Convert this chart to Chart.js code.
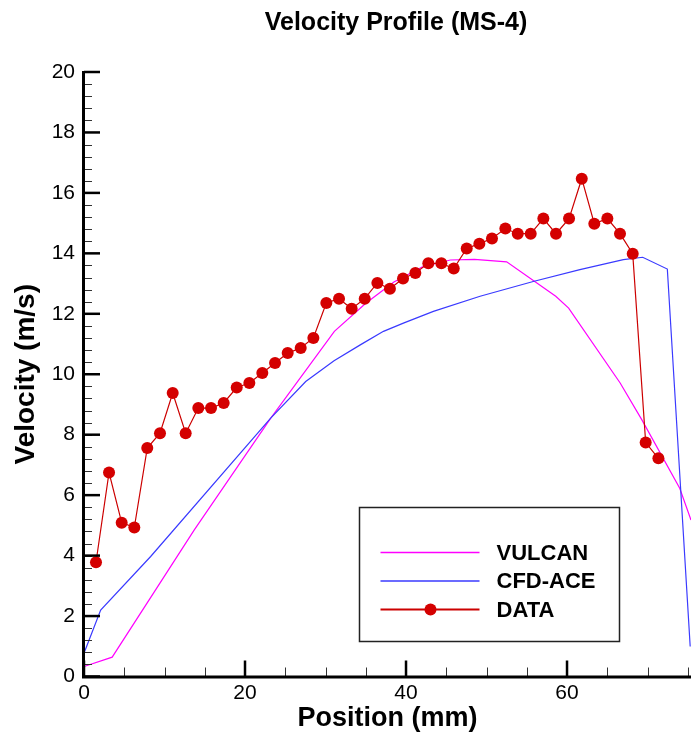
<!DOCTYPE html>
<html>
<head>
<meta charset="utf-8">
<title>Velocity Profile (MS-4)</title>
<script src="https://cdn.jsdelivr.net/npm/chart.js@4.4.1/dist/chart.umd.min.js"></script>
<style>
  html, body { margin: 0; padding: 0; background: #fff; }
  #wrap { width: 691px; height: 733px; }
</style>
</head>
<body>
<div id="wrap"><canvas id="velChart" width="691" height="733"></canvas></div>
<script>
// VULCAN prediction (magenta)
var vulcanX = [0, 3.5, 13.7, 23.2, 31.1, 35.0, 38.5, 42.0, 45.5, 48.5, 52.5, 58.6, 60.2, 66.6, 69.3, 74.0, 75.4];
var vulcanY = [0.33, 0.64, 4.85, 8.55, 11.42, 12.35, 13.05, 13.55, 13.78, 13.8, 13.72, 12.58, 12.19, 9.71, 8.49, 6.23, 5.18];

// CFD-ACE prediction (blue)
var cfdX = [0, 2.07, 8.28, 23.19, 27.54, 31.06, 34.37, 37.2, 39.75, 43.4, 49.2, 55.8, 61.6, 67.0, 69.4, 72.46, 75.3];
var cfdY = [0.77, 2.2, 3.97, 8.55, 9.76, 10.45, 10.98, 11.42, 11.7, 12.08, 12.58, 13.07, 13.46, 13.79, 13.87, 13.48, 0.99];

// measured data (red dots)
var dataX = [1.49, 3.11, 4.68, 6.25, 7.86, 9.44, 11.02, 12.63, 14.2, 15.78, 17.35, 18.97, 20.54, 22.15, 23.73,
             25.3, 26.92, 28.49, 30.1, 31.68, 33.25, 34.87, 36.44, 38.0, 39.63, 41.16, 42.77, 44.39, 45.93, 47.54,
             49.11, 50.68, 52.34, 53.88, 55.49, 57.06, 58.63, 60.25, 61.83, 63.39, 65.01, 66.58, 68.16, 69.77, 71.35];
var dataY = [3.78, 6.75, 5.09, 4.93, 7.56, 8.05, 9.38, 8.05, 8.88, 8.88, 9.05, 9.56, 9.71, 10.04, 10.37,
             10.7, 10.87, 11.2, 12.36, 12.5, 12.17, 12.5, 13.02, 12.83, 13.17, 13.35, 13.67, 13.67, 13.5, 14.16,
             14.32, 14.49, 14.82, 14.65, 14.65, 15.15, 14.65, 15.15, 16.47, 14.98, 15.15, 14.65, 13.99, 7.74, 7.22];

var xTicks = [0, 20, 40, 60];
var yTicks = [0, 2, 4, 6, 8, 10, 12, 14, 16, 18, 20];
var xMinorStep = 5;
var yMinorStep = 0.4;

var FONT = "'Liberation Sans', Arial, Helvetica, sans-serif";

function pairs(xs, ys) {
    return xs.map(function(v, i) { return { x: v, y: ys[i] }; });
}

// title drawn at a fixed spot over the plot
var titlePlugin = {
    id: 'topTitle',
    afterDraw: function(chart) {
        var ctx = chart.ctx;
        ctx.save();
        ctx.font = 'bold 25px ' + FONT;
        ctx.fillStyle = '#000';
        ctx.textAlign = 'center';
        ctx.textBaseline = 'middle';
        ctx.fillText('Velocity Profile (MS-4)', 396, 23);
        ctx.restore();
    }
};

// Tecplot style axes: thick lines with inward major / minor ticks
var axesPlugin = {
    id: 'tecAxes',
    afterDatasetsDraw: function(chart) {
        var ctx = chart.ctx, a = chart.chartArea;
        var xs = chart.scales.x, ys = chart.scales.y;
        ctx.save();

        ctx.lineWidth = 1;
        ctx.strokeStyle = '#333';
        for (var v = 0; v <= xs.max + 1e-6; v += xMinorStep) {
            var px = Math.round(xs.getPixelForValue(v)) + 0.5;
            ctx.beginPath(); ctx.moveTo(px, a.bottom); ctx.lineTo(px, a.bottom - 9); ctx.stroke();
        }
        for (var k = 0; k * yMinorStep <= ys.max + 1e-6; k++) {
            var py = Math.round(ys.getPixelForValue(k * yMinorStep)) + 0.5;
            ctx.beginPath(); ctx.moveTo(a.left, py); ctx.lineTo(a.left + 8, py); ctx.stroke();
        }

        ctx.strokeStyle = '#000';
        ctx.lineWidth = 2.5;
        xTicks.forEach(function(t) {
            var px = xs.getPixelForValue(t);
            ctx.beginPath(); ctx.moveTo(px, a.bottom); ctx.lineTo(px, a.bottom - 16); ctx.stroke();
        });
        yTicks.forEach(function(t) {
            var py = ys.getPixelForValue(t);
            ctx.beginPath(); ctx.moveTo(a.left, py); ctx.lineTo(a.left + 16, py); ctx.stroke();
        });

        ctx.lineWidth = 3;
        ctx.beginPath();
        ctx.moveTo(a.left - 0.5, a.top - 1);
        ctx.lineTo(a.left - 0.5, a.bottom + 0.5);
        ctx.lineTo(a.right, a.bottom + 0.5);
        ctx.stroke();
        ctx.restore();
    }
};

// legend box inside the plot, built from the datasets
var legendPlugin = {
    id: 'boxLegend',
    afterDraw: function(chart) {
        var ctx = chart.ctx, a = chart.chartArea;
        var bx = a.left + 275.5, by = a.top + 435.5, bw = 260, bh = 134;
        ctx.save();
        ctx.fillStyle = '#fff';
        ctx.fillRect(bx, by, bw, bh);
        ctx.strokeStyle = '#222';
        ctx.lineWidth = 1.5;
        ctx.strokeRect(bx, by, bw, bh);

        ctx.font = 'bold 22px ' + FONT;
        ctx.textBaseline = 'middle';
        ctx.textAlign = 'left';
        chart.data.datasets.forEach(function(ds, i) {
            var ly = by + 45 + i * 28.5;
            ctx.strokeStyle = ds.borderColor;
            ctx.lineWidth = ds.pointRadius ? 2 : 1.3;
            ctx.beginPath(); ctx.moveTo(bx + 21, ly); ctx.lineTo(bx + 120, ly); ctx.stroke();
            if (ds.pointRadius) {
                ctx.fillStyle = ds.pointBackgroundColor;
                ctx.beginPath(); ctx.arc(bx + 71, ly, ds.pointRadius, 0, Math.PI * 2); ctx.fill();
            }
            ctx.fillStyle = '#000';
            ctx.fillText(ds.label, bx + 137, ly + 1);
        });
        ctx.restore();
    }
};

var ctx = document.getElementById('velChart').getContext('2d');

new Chart(ctx, {
    type: 'line',
    data: {
        datasets: [{
            label: 'VULCAN',
            data: pairs(vulcanX, vulcanY),
            borderColor: '#ff00ff',
            borderWidth: 1.2,
            pointRadius: 0,
            order: 2
        }, {
            label: 'CFD-ACE',
            data: pairs(cfdX, cfdY),
            borderColor: '#3a3aff',
            borderWidth: 1.2,
            pointRadius: 0,
            order: 1
        }, {
            label: 'DATA',
            data: pairs(dataX, dataY),
            borderColor: '#cc0000',
            borderWidth: 1.2,
            pointRadius: 6,
            pointBackgroundColor: '#d40000',
            pointBorderWidth: 0,
            order: 0
        }]
    },
    options: {
        responsive: false,
        animation: false,
        layout: { autoPadding: false, padding: { top: 72, left: 0, right: 0, bottom: 0 } },
        elements: { line: { tension: 0 } },
        scales: {
            x: {
                type: 'linear',
                min: 0,
                max: 75.4,
                grid: { display: false, drawTicks: false },
                border: { display: false },
                afterBuildTicks: function(scale) {
                    scale.ticks = xTicks.map(function(v) { return { value: v }; });
                },
                afterFit: function(scale) { scale.height = 56.5; },
                ticks: {
                    padding: 4,
                    color: '#000',
                    font: { family: FONT, size: 21 }
                },
                title: {
                    display: true,
                    text: 'Position (mm)',
                    color: '#000',
                    font: { family: FONT, size: 27, weight: 'bold', lineHeight: 1 },
                    padding: { top: 0, bottom: 1 }
                }
            },
            y: {
                min: 0,
                max: 20,
                grid: { display: false, drawTicks: false },
                border: { display: false },
                afterBuildTicks: function(scale) {
                    scale.ticks = yTicks.map(function(v) { return { value: v }; });
                },
                afterFit: function(scale) { scale.width = 84; },
                ticks: {
                    padding: 9,
                    color: '#000',
                    font: { family: FONT, size: 21 }
                },
                title: {
                    display: true,
                    text: 'Velocity (m/s)',
                    color: '#000',
                    font: { family: FONT, size: 28, weight: 'bold', lineHeight: 1 },
                    padding: { top: 12, bottom: 0 }
                }
            }
        },
        plugins: {
            legend: { display: false },
            tooltip: { enabled: false },
            title: { display: false }
        }
    },
    plugins: [axesPlugin, legendPlugin, titlePlugin]
});
</script>
</body>
</html>
